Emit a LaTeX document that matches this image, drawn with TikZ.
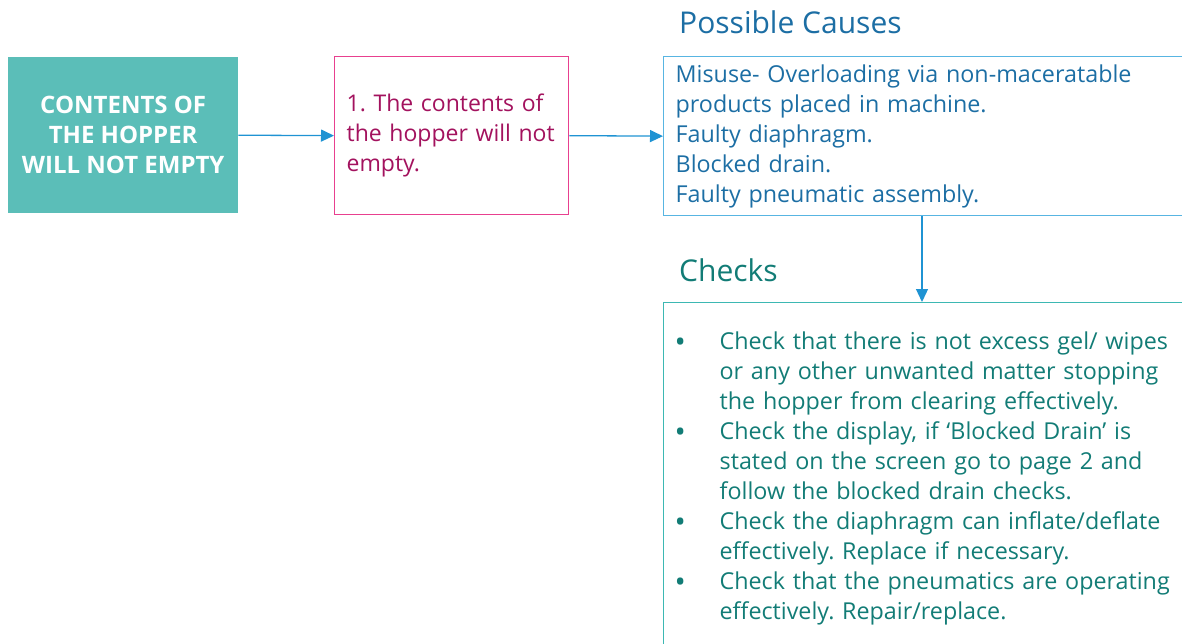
\documentclass[tikz,border=0pt]{standalone}
\usepackage{fontspec}
\setmainfont{Open Sans}
\usetikzlibrary{arrows.meta}
\definecolor{tealfill}{HTML}{5BBEB8}
\definecolor{pinkline}{HTML}{E8408F}
\definecolor{pinktext}{HTML}{A3125E}
\definecolor{arrowblue}{HTML}{1F93D3}
\definecolor{causeline}{HTML}{58B5E2}
\definecolor{causetext}{HTML}{1C6EA4}
\definecolor{checkline}{HTML}{3DB8B3}
\definecolor{checktext}{HTML}{127C76}
\newcommand\chkitem[1]{\par\leftskip=56pt\noindent\llap{\hbox to 56pt{\hspace{11pt}\raisebox{-3pt}{\fontsize{30}{30}\selectfont\textbullet}\hfil}}#1\par}
\frenchspacing
\begin{document}
\begin{tikzpicture}[x=1pt,y=-1pt,
  conn/.style={draw=arrowblue,line width=1.3pt,-{Triangle[length=13pt,width=12pt]}},
  hopbox/.style={fill=tealfill,draw=none,text=white,font=\fontsize{24}{30}\selectfont\bfseries\frenchspacing,align=center,inner sep=0pt},
  symbox/.style={draw=pinkline,line width=1.3pt,fill=white,text=pinktext,font=\fontsize{23}{30}\selectfont\frenchspacing,align=left,inner xsep=0pt,inner ysep=0pt},
  causebox/.style={draw=causeline,line width=1.3pt,text=causetext,font=\fontsize{23.3}{30}\selectfont\frenchspacing,align=left,inner xsep=12pt,inner ysep=0pt},
  checkbox/.style={draw=checkline,line width=1.3pt,text=checktext,font=\fontsize{23.3}{30}\selectfont\frenchspacing,align=left,inner xsep=0pt,inner ysep=0pt},
  titletext/.style={font=\fontsize{30}{36}\selectfont,anchor=west,inner sep=0pt}]
\useasboundingbox (0,0) rectangle (1182,644);
\clip (0,0) rectangle (1182,644);
\node[hopbox,anchor=north west,minimum width=230pt,minimum height=156pt] (hop) at (8,57) {CONTENTS OF\\THE HOPPER\\WILL NOT EMPTY};
\node[symbox,anchor=north west,minimum width=234pt,minimum height=158pt,text width=234pt] (sym) at (334,56) {\leftskip=12pt\noindent 1. The contents of\newline the hopper will not\newline empty.\par};
\node[causebox,anchor=north west,minimum width=540pt,minimum height=159pt,text width=516pt] (cause) at (663,56) {Misuse- Overloading via non-maceratable\\products placed in machine.\\Faulty diaphragm.\\Blocked drain.\\Faulty pneumatic assembly.};
\node[checkbox,anchor=north west,minimum width=540pt,minimum height=360pt,text width=540pt] (check) at (663,302) {%
\chkitem{Check that there is not excess gel/ wipes\newline or any other unwanted matter stopping\newline the hopper from clearing effectively.}%
\chkitem{Check the display, if ‘Blocked Drain’ is\newline stated on the screen go to page 2 and\newline follow the blocked drain checks.}%
\chkitem{Check the diaphragm can inflate/deflate\newline effectively. Replace if necessary.}%
\chkitem{Check that the pneumatics are operating\newline effectively. Repair/replace.}\vspace*{20pt}};
\node[titletext,text=causetext] (ctitle) at (679,22) {Possible Causes};
\node[titletext,text=checktext] (ktitle) at (679,270) {Checks};
\coordinate (dx) at (922,0);
\draw[conn] (hop.east) -- (sym.west);
\draw[conn] (sym.east) -- (cause.west);
\draw[conn] (cause.south -| dx) -- (check.north -| dx);
\end{tikzpicture}
\end{document}
